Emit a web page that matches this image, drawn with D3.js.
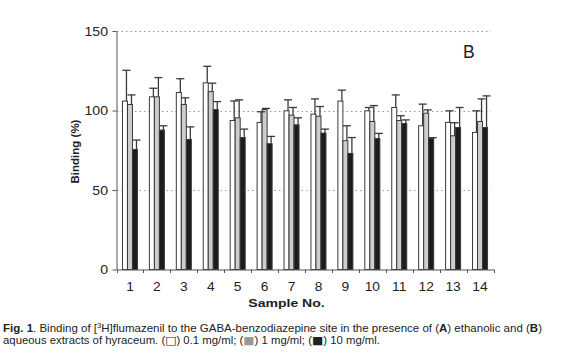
<!DOCTYPE html>
<html><head><meta charset="utf-8">
<script src="https://cdn.jsdelivr.net/npm/d3@7"></script>
<style>
body{margin:0;background:#fff;}
svg{display:block;font-family:"Liberation Sans",Arial,Helvetica,sans-serif;}
</style></head>
<body><svg id="c" width="567" height="353"></svg>
<script>
const samples = ["1","2","3","4","5","6","7","8","9","10","11","12","13","14"];
const seriesNames = ["0.1 mg/ml","1 mg/ml","10 mg/ml"];
const low = [105.9,108.6,111.3,117.4,93.7,92.5,99.8,97.7,105.9,99.8,101.9,90.4,92.5,86.2];
const lowErr = [19.4,5.4,8.7,10.4,12.3,6.7,6.9,9.6,6.9,2.1,7.9,13.6,7.3,13.6];
const mid = [103.8,108.6,103.8,111.9,95.4,100.6,97.1,96.4,81.0,93.1,93.7,98.3,84.1,93.1];
const midErr = [6.0,12.1,4.2,5.3,11.3,0.7,4.8,6.1,9.4,10.0,3.0,2.1,8.2,14.2];
const high = [75.5,87.7,81.8,100.6,83.0,79.1,91.0,85.8,73.0,82.4,91.8,82.4,89.3,89.3];
const highErr = [5.9,2.7,7.9,5.0,5.3,4.6,4.4,2.5,10.0,3.2,2.3,0.5,12.6,19.9];
const yTicks = [0,50,100,150];

const fills = ["#ffffff","#cdcdcd","#1c1c1c"];
const vals = [low, mid, high];
const errs = [lowErr, midErr, highErr];

const svg = d3.select("#c");
const x0 = d3.scaleBand().domain(samples).range([116.5, 493.5]).padding(0);
const x1 = d3.scaleBand().domain(seriesNames).range([0, x0.bandwidth()]).paddingInner(0).paddingOuter(1.19);
const y = d3.scaleLinear().domain([0,150]).range([269.5, 31]);

// grid
svg.append("g").selectAll("line").data(yTicks.filter(d=>d>0)).join("line")
  .attr("x1",117).attr("x2",491).attr("y1",d=>Math.round(y(d))+0.5).attr("y2",d=>Math.round(y(d))+0.5)
  .attr("stroke","#9a9a9a").attr("stroke-width",1).attr("stroke-dasharray","1.5,3");

// bars
const data = [];
samples.forEach((s,i)=>seriesNames.forEach((n,j)=>data.push({s,n,j,v:vals[j][i],e:errs[j][i]})));
const g = svg.append("g");
g.selectAll("rect").data(data).join("rect")
  .attr("x",d=>x0(d.s)+x1(d.n)).attr("width",x1.bandwidth())
  .attr("y",d=>y(d.v)).attr("height",d=>y(0)-y(d.v))
  .attr("fill",d=>fills[d.j]).attr("stroke","#3a3a3a").attr("stroke-width",1);
// error bars
const eb = svg.append("g").attr("stroke","#3a3a3a").attr("stroke-width",1.3);
eb.selectAll("line.w").data(data).join("line").attr("class","w")
  .attr("x1",d=>x0(d.s)+x1(d.n)+x1.bandwidth()/2+1.5).attr("x2",d=>x0(d.s)+x1(d.n)+x1.bandwidth()/2+1.5)
  .attr("y1",d=>y(d.v)).attr("y2",d=>y(d.v+d.e));
eb.selectAll("line.c").data(data).join("line").attr("class","c")
  .attr("x1",d=>x0(d.s)+x1(d.n)+x1.bandwidth()/2+1.5-4).attr("x2",d=>x0(d.s)+x1(d.n)+x1.bandwidth()/2+1.5+4)
  .attr("y1",d=>y(d.v+d.e)).attr("y2",d=>y(d.v+d.e));

// y axis
const ya = svg.append("g").attr("transform","translate(116.5,0)")
  .call(d3.axisLeft(y).tickValues(yTicks).tickSize(4).tickPadding(4).tickSizeOuter(0));
ya.select(".domain").attr("stroke","#555");
ya.selectAll(".tick line").attr("stroke","#555");
ya.selectAll(".tick text").attr("font-size",12.5).attr("fill","#222")
  .attr("x",-7.5).attr("transform","scale(1.13,1)");

// x axis
const xa = svg.append("g").attr("transform","translate(0,269.5)")
  .call(d3.axisBottom(x0).tickSize(0).tickPadding(13).tickSizeOuter(0));
xa.select(".domain").attr("stroke","#555");
xa.selectAll(".tick text").attr("font-size",12).attr("fill","#222").attr("transform","scale(1.15,1)");
// boundary ticks
svg.append("g").selectAll("line").data(samples.concat(["end"])).join("line")
  .attr("x1",(d,i)=>Math.round(116.5+i*x0.step())+0.5).attr("x2",(d,i)=>Math.round(116.5+i*x0.step())+0.5)
  .attr("y1",269.5).attr("y2",273).attr("stroke","#555");

// labels
svg.append("text").attr("transform","translate(79,151.5) rotate(-90)")
  .attr("text-anchor","middle").attr("font-size",11.5).attr("font-weight","bold").attr("fill","#222").text("Binding (%)");
svg.append("text").attr("transform","translate(286.5,306.7) scale(1.2,1)")
  .attr("text-anchor","middle").attr("font-size",11.7).attr("font-weight","bold").attr("fill","#222").text("Sample No.");
svg.append("text").attr("x",463).attr("y",58).attr("font-size",17.5).attr("fill","#222").text("B");

// caption
const c1 = svg.append("text").attr("x",3).attr("y",332).attr("font-size",10.5).attr("fill","#222")
  .attr("textLength",539).attr("lengthAdjust","spacingAndGlyphs");
c1.append("tspan").attr("font-weight","bold").text("Fig. 1");
c1.append("tspan").text(". Binding of [");
c1.append("tspan").attr("font-size",7).attr("dy",-4).text("3");
c1.append("tspan").attr("dy",4).text("H]flumazenil to the GABA-benzodiazepine site in the presence of (");
c1.append("tspan").attr("font-weight","bold").text("A");
c1.append("tspan").text(") ethanolic and (");
c1.append("tspan").attr("font-weight","bold").text("B");
c1.append("tspan").text(")");
const c2 = svg.append("text").attr("x",3).attr("y",344).attr("font-size",10.5).attr("fill","#222")
  .attr("textLength",377).attr("lengthAdjust","spacingAndGlyphs");
c2.append("tspan").text("aqueous extracts of hyraceum. (");
c2.append("tspan").attr("font-family","DejaVu Sans").attr("font-size",11).attr("font-weight","bold").text("\u25A1");
c2.append("tspan").text(") 0.1 mg/ml; (");
c2.append("tspan").attr("font-family","DejaVu Sans").attr("font-size",11).attr("fill","#999").text("\u25A0");
c2.append("tspan").text(") 1 mg/ml; (");
c2.append("tspan").attr("font-family","DejaVu Sans").attr("font-size",11).text("\u25A0");
c2.append("tspan").text(") 10 mg/ml.");
</script></body></html>
